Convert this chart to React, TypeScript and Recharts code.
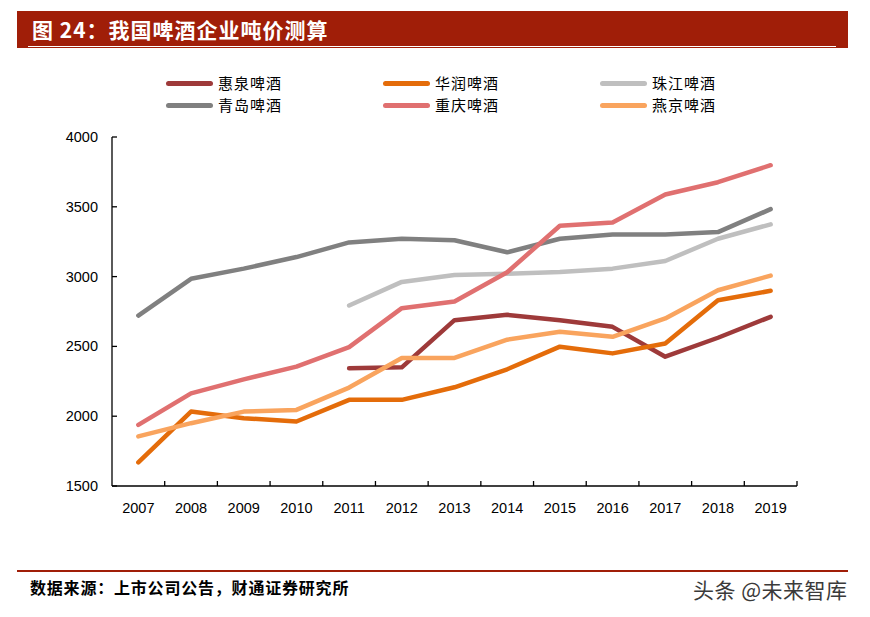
import { LineChart, Line, XAxis, YAxis } from "recharts";

const years = ["2007", "2008", "2009", "2010", "2011", "2012", "2013", "2014", "2015", "2016", "2017", "2018", "2019"];

const huiquan = [null, null, null, null, 2343, 2350, 2688, 2726, 2688, 2640, 2426, 2562, 2712];
const huarun = [1669, 2033, 1986, 1962, 2117, 2117, 2207, 2336, 2498, 2450, 2521, 2831, 2898];
const zhujiang = [null, null, null, null, 2793, 2962, 3012, 3021, 3033, 3057, 3112, 3271, 3374];
const qingdao = [2721, 2984, 3057, 3140, 3245, 3271, 3260, 3174, 3271, 3302, 3302, 3319, 3483];
const chongqing = [1938, 2164, 2264, 2355, 2495, 2774, 2821, 3031, 3364, 3388, 3588, 3676, 3798];
const yanjing = [1855, 1950, 2033, 2045, 2205, 2417, 2417, 2548, 2605, 2569, 2700, 2902, 3007];

const yTicks = [1500, 2000, 2500, 3000, 3500, 4000];

const series = [
  { key: "huiquan", name: "惠泉啤酒", values: huiquan, color: "#9E3A3A" },
  { key: "huarun", name: "华润啤酒", values: huarun, color: "#E46C0A" },
  { key: "zhujiang", name: "珠江啤酒", values: zhujiang, color: "#BFBFBF" },
  { key: "qingdao", name: "青岛啤酒", values: qingdao, color: "#808080" },
  { key: "chongqing", name: "重庆啤酒", values: chongqing, color: "#E07070" },
  { key: "yanjing", name: "燕京啤酒", values: yanjing, color: "#F9A45E" },
];

const data = years.map((year, i) => {
  const row: Record<string, string | number | null> = { year };
  series.forEach((s) => {
    row[s.key] = s.values[i];
  });
  return row;
});

const tickFont = '"Liberation Sans", Arial, sans-serif';
const cjkFont = '"Noto Sans CJK SC", sans-serif';

const XTick = (props: any) => {
  const { x, y, payload, width, visibleTicksCount } = props;
  const half = (width || 685) / (visibleTicksCount || 13) / 2;
  const axisY = y - 8;
  return (
    <g>
      <line x1={x + half} x2={x + half} y1={axisY} y2={axisY - 5} stroke="#000" strokeWidth={1.3} />
      <text x={x} y={y} dy={19} textAnchor="middle" fontSize={14.5} fontFamily={tickFont} fill="#000">
        {payload.value}
      </text>
    </g>
  );
};

const YTick = (props: any) => {
  const { x, y, payload } = props;
  return (
    <g>
      <line x1={x + 14} x2={x + 19} y1={y} y2={y} stroke="#000" strokeWidth={1.3} />
      <text x={x} y={y} dy={5} textAnchor="end" fontSize={14.5} fontFamily={tickFont} fill="#000">
        {payload.value}
      </text>
    </g>
  );
};

const ChartLegend = () => (
  <div style={{ position: "absolute", left: 166, top: 72, width: 700, height: 50 }}>
    {series.map((s, i) => (
      <div
        key={s.key}
        style={{
          position: "absolute",
          left: (i % 3) * 217,
          top: Math.floor(i / 3) * 22,
          display: "flex",
          alignItems: "center",
          height: 22,
        }}
      >
        <div style={{ width: 47, height: 5, borderRadius: 3, background: s.color }} />
        <span
          style={{
            marginLeft: 5,
            fontSize: 15,
            letterSpacing: 1,
            fontFamily: cjkFont,
            color: "#000",
            lineHeight: "22px",
          }}
        >
          {s.name}
        </span>
      </div>
    ))}
  </div>
);

export default function App() {
  return (
    <div style={{ position: "absolute", left: 0, top: 0, width: 870, height: 617, background: "#fff", overflow: "hidden" }}>
      {/* title bar */}
      <div
        style={{
          position: "absolute",
          left: 17,
          top: 11,
          width: 831,
          height: 37,
          background: "#A01E08",
        }}
      >
        <div style={{ position: "absolute", left: 11, right: 12, bottom: 1, height: 1, background: "#fff" }} />
        <div
          style={{
            position: "absolute",
            left: 15,
            top: 0,
            lineHeight: "37px",
            fontSize: 21,
            letterSpacing: 1,
            fontWeight: 700,
            color: "#fff",
            fontFamily: cjkFont,
            whiteSpace: "pre",
          }}
        >
          图 24：我国啤酒企业吨价测算
        </div>
      </div>

      <ChartLegend />

      <div style={{ position: "absolute", left: 0, top: 0 }}>
        <LineChart width={870} height={617} data={data} margin={{ top: 137, right: 73, bottom: 101, left: 52 }}>
          <XAxis
            dataKey="year"
            height={30}
            scale="band"
            axisLine={{ stroke: "#000", strokeWidth: 1.3 }}
            tickLine={false}
            tickSize={0}
            tickMargin={8}
            tick={<XTick />}
            interval={0}
          />
          <YAxis
            width={60}
            domain={[1500, 4000]}
            ticks={yTicks}
            type="number"
            allowDataOverflow
            axisLine={{ stroke: "#000", strokeWidth: 1.3 }}
            tickLine={false}
            tickSize={0}
            tickMargin={14}
            tick={<YTick />}
            interval={0}
          />
          {series.map((s) => (
            <Line
              key={s.key}
              dataKey={s.key}
              name={s.name}
              type="linear"
              stroke={s.color}
              strokeWidth={4.5}
              strokeLinecap="round"
              strokeLinejoin="round"
              dot={false}
              activeDot={false}
              isAnimationActive={false}
            />
          ))}
        </LineChart>
      </div>

      {/* footer */}
      <div style={{ position: "absolute", left: 17, top: 570, width: 831, height: 2, background: "#A01E08" }} />
      <div
        style={{
          position: "absolute",
          left: 30,
          top: 577,
          fontSize: 16,
          letterSpacing: 0.8,
          fontWeight: 700,
          fontFamily: cjkFont,
          color: "#000",
          lineHeight: "20px",
        }}
      >
        数据来源：上市公司公告，财通证券研究所
      </div>
      <div
        style={{
          position: "absolute",
          left: 693,
          top: 575,
          fontSize: 21,
          letterSpacing: 0.5,
          fontFamily: cjkFont,
          color: "#3a3a3a",
          lineHeight: "28px",
          whiteSpace: "nowrap",
        }}
      >
        头条 @未来智库
      </div>
    </div>
  );
}
